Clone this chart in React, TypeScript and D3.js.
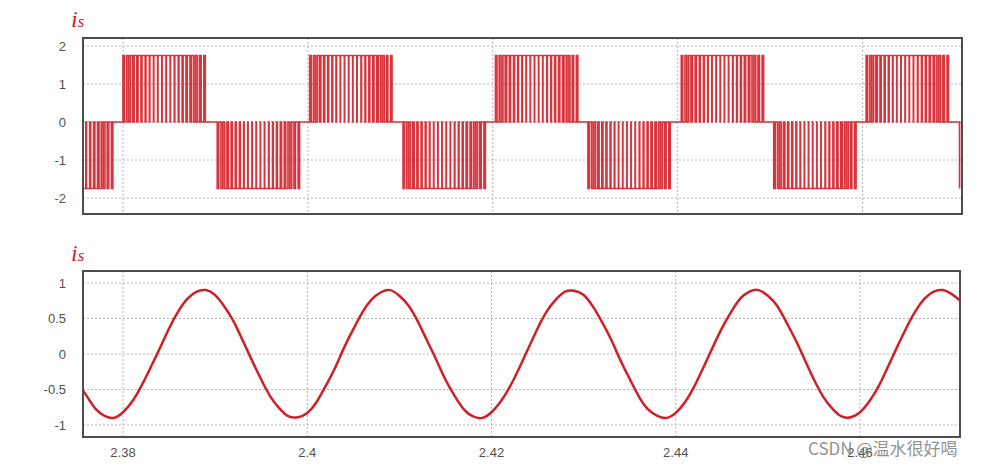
import React from 'react';
import * as d3 from 'd3';

// ---- data ----
const xTicks = [2.38, 2.4, 2.42, 2.44, 2.46];
const xTickLabels = ['2.38', '2.4', '2.42', '2.44', '2.46'];
const topYTicks = [2, 1, 0, -1, -2];
const bottomYTicks = [1, 0.5, 0, -0.5, -1];

// PWM current (top): level and block start times (s)
const pwmLevel = 1.75;
const posBlockStarts = [2.38, 2.4002, 2.4203, 2.4404, 2.4604];
const negBlockStarts = [2.37, 2.3902, 2.4103, 2.4303, 2.4504, 2.4705];
// pulse on/off offsets inside a block (ms)
const pulseOnMs = [0.0, 0.4, 0.8, 1.2, 1.62, 2.05, 2.48, 2.9, 3.33, 3.78, 4.23, 4.68, 5.13, 5.6, 6.05, 6.5, 6.95, 7.4, 7.85, 8.3, 8.75];
const pulseOffMs = [0.15, 0.6, 1.05, 1.5, 1.95, 2.4, 2.85, 3.3, 3.75, 4.2, 4.65, 5.1, 5.55, 5.98, 6.4, 6.82, 7.25, 7.65, 8.05, 8.45, 8.9];
const pwmEnd = 2.4706;

// Filtered current (bottom): samples every 1 ms starting at 2.375 s
const sineStart = 2.375;
const sineStep = 0.001;
const sineValues = [
  -0.40, -0.58, -0.77, -0.87, -0.90, -0.82, -0.67, -0.45, -0.19, 0.08,
  0.36, 0.60, 0.78, 0.88, 0.90, 0.83, 0.67, 0.46, 0.19, -0.09,
  -0.36, -0.60, -0.77, -0.88, -0.89, -0.83, -0.68, -0.45, -0.20, 0.09,
  0.35, 0.59, 0.77, 0.87, 0.90, 0.82, 0.68, 0.46, 0.19, -0.08,
  -0.36, -0.59, -0.78, -0.88, -0.90, -0.82, -0.67, -0.46, -0.20, 0.08,
  0.36, 0.60, 0.77, 0.88, 0.89, 0.83, 0.67, 0.45, 0.20, -0.09,
  -0.35, -0.60, -0.78, -0.87, -0.90, -0.83, -0.68, -0.46, -0.19, 0.09,
  0.36, 0.59, 0.78, 0.88, 0.90, 0.82, 0.68, 0.45, 0.20, -0.08,
  -0.36, -0.60, -0.77, -0.88, -0.89, -0.82, -0.67, -0.46, -0.19, 0.09,
  0.36, 0.60, 0.78, 0.88, 0.90, 0.84, 0.74,
];

const RED = '#d11f28';
const GRID = '#b4b4b4';
const FRAME = '#4d4d4d';
const TXT = '#505050';

function buildPwm(): [number, number][] {
  const pts: [number, number][] = [];
  const blocks: { t0: number; s: number }[] = [];
  posBlockStarts.forEach((t0) => blocks.push({ t0, s: 1 }));
  negBlockStarts.forEach((t0) => blocks.push({ t0, s: -1 }));
  blocks.sort((a, b) => a.t0 - b.t0);
  pts.push([blocks[0].t0 - 0.001, 0]);
  for (const b of blocks) {
    pulseOnMs.forEach((on, i) => {
      const tOn = b.t0 + on / 1000;
      const tOff = b.t0 + pulseOffMs[i] / 1000;
      pts.push([tOn, 0], [tOn, b.s * pwmLevel], [tOff, b.s * pwmLevel], [tOff, 0]);
    });
  }
  return pts.filter((p) => p[0] <= pwmEnd);
}

export default function App() {
  // top panel geometry
  const tL = 83, tR = 962, tT = 38, tB = 214;
  const xTop = d3.scaleLinear().domain([2.38, 2.46]).range([123, 862.5]);
  const yTop = d3.scaleLinear().domain([2, -2]).range([46, 198]);
  // bottom panel geometry
  const bL = 83, bR = 960, bT = 271, bB = 437;
  const xBot = d3.scaleLinear().domain([2.38, 2.46]).range([123, 860]);
  const yBot = d3.scaleLinear().domain([1, -1]).range([283, 425]);

  const pwm = buildPwm();
  const pwmPath = d3.line<[number, number]>().x((d) => xTop(d[0])).y((d) => yTop(d[1]))(pwm) || '';

  const sine = sineValues.map((v, i) => [sineStart + i * sineStep, v] as [number, number]);
  const sinePath = d3
    .line<[number, number]>()
    .x((d) => xBot(d[0]))
    .y((d) => yBot(d[1]))
    .curve(d3.curveNatural)(sine) || '';

  const font = "'Liberation Sans', Arial, sans-serif";

  return (
    <svg width={994} height={468} style={{ position: 'absolute', left: 0, top: 0, background: '#fff' }}
      xmlns="http://www.w3.org/2000/svg">
      <defs>
        <clipPath id="clipTop"><rect x={tL} y={tT} width={tR - tL} height={tB - tT} /></clipPath>
        <clipPath id="clipBot"><rect x={bL} y={bT} width={bR - bL} height={bB - bT} /></clipPath>
      </defs>
      <rect x={0} y={0} width={994} height={468} fill="#ffffff" />

      {/* ---------- top panel ---------- */}
      <text x={71} y={27} fill={RED} fontFamily="'Liberation Serif', 'DejaVu Serif', serif" fontStyle="italic">
        <tspan fontSize={24}>i</tspan><tspan fontSize={17}>s</tspan>
      </text>
      <g>
        {topYTicks.map((v) => (
          <line key={'tg' + v} x1={tL} x2={tR} y1={yTop(v)} y2={yTop(v)} stroke={GRID} strokeWidth={1} strokeDasharray="2,2" />
        ))}
        {xTicks.map((v) => (
          <line key={'tv' + v} x1={xTop(v)} x2={xTop(v)} y1={tT} y2={tB} stroke={GRID} strokeWidth={1} strokeDasharray="2,2" />
        ))}
        {topYTicks.map((v) => (
          <text key={'tl' + v} x={66} y={yTop(v)} dy="0.35em" textAnchor="end" fontSize={13} fill={TXT} fontFamily={font}>
            {String(v)}
          </text>
        ))}
      </g>
      <g clipPath="url(#clipTop)">
        <path d={pwmPath} fill="none" stroke={RED} strokeWidth={1.7} strokeOpacity={0.9} />
      </g>
      <rect x={tL} y={tT} width={tR - tL} height={tB - tT} fill="none" stroke={FRAME} strokeWidth={2} />

      {/* ---------- bottom panel ---------- */}
      <text x={71} y={261} fill={RED} fontFamily="'Liberation Serif', 'DejaVu Serif', serif" fontStyle="italic">
        <tspan fontSize={24}>i</tspan><tspan fontSize={17}>s</tspan>
      </text>
      <g>
        {bottomYTicks.map((v) => (
          <line key={'bg' + v} x1={bL} x2={bR} y1={yBot(v)} y2={yBot(v)} stroke={GRID} strokeWidth={1} strokeDasharray="2,2" />
        ))}
        {xTicks.map((v) => (
          <line key={'bv' + v} x1={xBot(v)} x2={xBot(v)} y1={bT} y2={bB} stroke={GRID} strokeWidth={1} strokeDasharray="2,2" />
        ))}
        {bottomYTicks.map((v) => (
          <text key={'bl' + v} x={66} y={yBot(v)} dy="0.35em" textAnchor="end" fontSize={13} fill={TXT} fontFamily={font}>
            {String(v)}
          </text>
        ))}
        {xTicks.map((v, i) => (
          <text key={'bx' + v} x={xBot(v)} y={457} textAnchor="middle" fontSize={13} fill={TXT} fontFamily={font}>
            {xTickLabels[i]}
          </text>
        ))}
      </g>
      <g clipPath="url(#clipBot)">
        <path d={sinePath} fill="none" stroke={RED} strokeWidth={2.5} strokeLinejoin="round" />
      </g>
      <rect x={bL} y={bT} width={bR - bL} height={bB - bT} fill="none" stroke={FRAME} strokeWidth={2} />

      {/* watermark */}
      <text x={808} y={455} fontSize={17} fill="#8a8a8a" fillOpacity={0.95}
        fontFamily="'Noto Sans CJK SC', 'Noto Sans', sans-serif">
        CSDN @温水很好喝
      </text>
    </svg>
  );
}
